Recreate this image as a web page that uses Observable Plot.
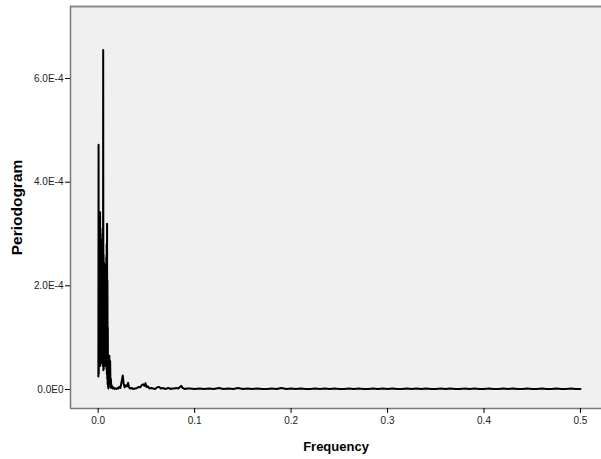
<!DOCTYPE html>
<html>
<head>
<meta charset="utf-8">
<script src="https://cdn.jsdelivr.net/npm/d3@7"></script>
<script src="https://cdn.jsdelivr.net/npm/@observablehq/plot@0.6"></script>
<style>
  html, body { margin: 0; padding: 0; background: #ffffff; overflow: hidden; }
  #chart svg { display: block; font-family: "Liberation Sans", Arial, sans-serif; }
</style>
</head>
<body>
<div id="chart"></div>
<script>
// Frequency values (cycles per observation)
const frequency = [
  0.0002, 0.0004, 0.0006, 0.0008, 0.0010, 0.0012, 0.0014, 0.0016, 0.0018, 0.0020,
  0.0022, 0.0024, 0.0026, 0.0028, 0.0030, 0.0032, 0.0034, 0.0036, 0.0038, 0.0040,
  0.0042, 0.0044, 0.0046, 0.0048, 0.0050, 0.0052, 0.0054, 0.0056, 0.0058, 0.0060,
  0.0062, 0.0064, 0.0066, 0.0068, 0.0070, 0.0072, 0.0074, 0.0076, 0.0078, 0.0080,
  0.0082, 0.0084, 0.0086, 0.0088, 0.0090, 0.0092, 0.0094, 0.0096, 0.0098, 0.0100,
  0.0102, 0.0104, 0.0106, 0.0108, 0.0112, 0.0116, 0.0120, 0.0124, 0.0128, 0.0132,
  0.0136, 0.0140, 0.0150, 0.0160, 0.0170, 0.0180, 0.0190,
  0.0200, 0.0210, 0.0220, 0.0230, 0.0240, 0.0255, 0.0265, 0.0275, 0.0285, 0.0300,
  0.0310, 0.0320, 0.0330, 0.0345, 0.0360, 0.0375, 0.0390, 0.0405, 0.0420, 0.0435,
  0.0450, 0.0465, 0.0480, 0.0490, 0.0500, 0.0515, 0.0530, 0.0550, 0.0570, 0.0590,
  0.0610, 0.0630, 0.0650, 0.0670, 0.0690, 0.0710, 0.0730, 0.0750, 0.0770, 0.0790,
  0.0810, 0.0830, 0.0850, 0.0860, 0.0875, 0.0900, 0.0925, 0.0950, 0.1000, 0.1050,
  0.1100, 0.1150, 0.1200, 0.1250, 0.1300, 0.1350, 0.1400, 0.1450, 0.1500, 0.1550,
  0.1600, 0.1650, 0.1700, 0.1750, 0.1800, 0.1850, 0.1900, 0.1950, 0.2000, 0.2050,
  0.2100, 0.2150, 0.2200, 0.2250, 0.2300, 0.2350, 0.2400, 0.2450, 0.2500, 0.2550,
  0.2600, 0.2650, 0.2700, 0.2750, 0.2800, 0.2850, 0.2900, 0.2950, 0.3000, 0.3050,
  0.3100, 0.3150, 0.3200, 0.3250, 0.3300, 0.3350, 0.3400, 0.3450, 0.3500, 0.3550,
  0.3600, 0.3650, 0.3700, 0.3750, 0.3800, 0.3850, 0.3900, 0.3950, 0.4000, 0.4050,
  0.4100, 0.4150, 0.4200, 0.4250, 0.4300, 0.4350, 0.4400, 0.4450, 0.4500, 0.4550,
  0.4600, 0.4650, 0.4700, 0.4750, 0.4800, 0.4850, 0.4900, 0.4950, 0.5000
];

// Periodogram values, in units of 1E-4
const periodogram = [
  0.25, 4.72, 0.30, 3.00, 0.50, 2.95, 0.45, 2.85, 0.48, 3.42,
  0.46, 3.10, 0.50, 2.90, 0.55, 2.80, 0.58, 2.80, 0.62, 2.75,
  0.55, 2.85, 0.50, 3.00, 0.45, 6.55, 0.37, 2.60, 0.40, 2.45,
  0.45, 2.35, 0.50, 2.30, 0.55, 2.28, 0.66, 2.30, 0.55, 2.40,
  0.45, 2.55, 0.40, 2.80, 0.30, 3.20, 0.20, 2.10, 0.10, 1.20,
  0.05, 0.60, 0.02, 0.30, 0.30, 0.65, 0.15, 0.55, 0.05, 0.20,
  0.03, 0.08, 0.02, 0.04, 0.01, 0.02, 0.01,
  0.03, 0.02, 0.05, 0.03, 0.12, 0.27, 0.10, 0.04, 0.08, 0.06,
  0.13, 0.04, 0.02, 0.03, 0.01, 0.02, 0.02, 0.03, 0.05, 0.04,
  0.08, 0.10, 0.07, 0.12, 0.05, 0.06, 0.02, 0.03, 0.02, 0.01,
  0.04, 0.05, 0.02, 0.03, 0.01, 0.02, 0.03, 0.01, 0.02, 0.02,
  0.03, 0.02, 0.05, 0.07, 0.03, 0.01, 0.02, 0.02, 0.01, 0.02,
  0.01, 0.02, 0.01, 0.03, 0.01, 0.02, 0.01, 0.03, 0.01, 0.02,
  0.01, 0.02, 0.01, 0.01, 0.02, 0.01, 0.03, 0.01, 0.02, 0.01,
  0.02, 0.01, 0.01, 0.02, 0.01, 0.02, 0.01, 0.02, 0.01, 0.01,
  0.02, 0.01, 0.02, 0.01, 0.01, 0.02, 0.01, 0.02, 0.01, 0.02,
  0.01, 0.01, 0.02, 0.01, 0.02, 0.01, 0.02, 0.01, 0.01, 0.02,
  0.01, 0.02, 0.01, 0.01, 0.02, 0.01, 0.02, 0.01, 0.01, 0.02,
  0.01, 0.01, 0.02, 0.01, 0.02, 0.01, 0.01, 0.02, 0.01, 0.01,
  0.02, 0.01, 0.01, 0.02, 0.01, 0.01, 0.02, 0.01, 0.01
];

const xTicks = [0, 0.1, 0.2, 0.3, 0.4, 0.5];
const xTickLabels = ["0.0", "0.1", "0.2", "0.3", "0.4", "0.5"];
const yTicks = [0, 2, 4, 6];
const yTickLabels = ["0.0E0", "2.0E-4", "4.0E-4", "6.0E-4"];
const xTitle = "Frequency";
const yTitle = "Periodogram";

const data = frequency.map((f, i) => ({ f, p: periodogram[i] }));
// the plot panel runs past the right edge of the picture
const xDomain = [-0.0287, 0.5270];
const yDomain = [-0.367, 7.39];

const chart = Plot.plot({
  width: 601,
  height: 459,
  marginLeft: 70,
  marginRight: -5,
  marginTop: 6,
  marginBottom: 51,
  style: { background: "#ffffff", fontFamily: "'Liberation Sans', Arial, sans-serif", overflow: "hidden" },
  x: { domain: xDomain },
  y: { domain: yDomain },
  marks: [
    Plot.frame({ fill: "#f0f0f0", stroke: "#f0f0f0", strokeOpacity: 0, strokeWidth: 0 }),
    Plot.line(data, { x: "f", y: "p", stroke: "#000000", strokeWidth: 2 }),
    Plot.ruleY([yDomain[1]], { stroke: "#8c8c8c", strokeWidth: 2 }),
    Plot.ruleY([yDomain[0]], { stroke: "#7a7a7a", strokeWidth: 1.5 }),
    Plot.ruleX([xDomain[0]], { stroke: "#7a7a7a", strokeWidth: 1.5 }),
    Plot.axisX({
      ticks: xTicks,
      tickFormat: (d) => xTickLabels[xTicks.indexOf(d)],
      tickSize: 5,
      tickPadding: 3,
      fontSize: 10,
      fill: "#222",
      label: null
    }),
    Plot.axisY({
      ticks: yTicks,
      tickFormat: (d) => yTickLabels[yTicks.indexOf(d)],
      tickSize: 5,
      tickPadding: 2,
      fontSize: 10,
      fill: "#222",
      label: null
    }),
    Plot.text([xTitle], {
      frameAnchor: "bottom",
      dx: -2.5,
      dy: 42,
      text: (d) => d,
      fontSize: 13,
      fontWeight: "bold",
      fill: "#000"
    }),
    Plot.text([yTitle], {
      frameAnchor: "left",
      textAnchor: "middle",
      dx: -53,
      rotate: -90,
      text: (d) => d,
      fontSize: 15.5,
      fontWeight: "bold",
      fill: "#000"
    })
  ]
});

document.getElementById("chart").appendChild(chart);
</script>
</body>
</html>
